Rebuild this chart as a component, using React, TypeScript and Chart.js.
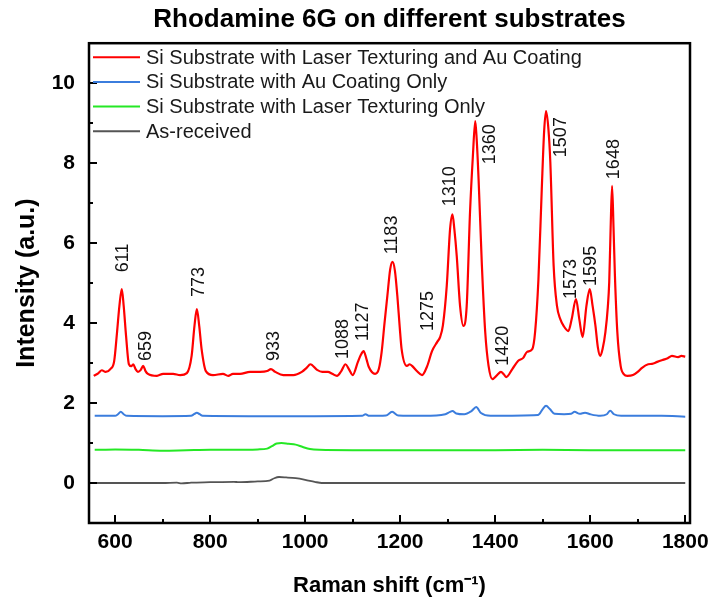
import React, { useEffect, useRef } from 'react';
import { Chart, registerables } from 'chart.js';

Chart.register(...registerables);

const FONT = '"Liberation Sans", Arial, Helvetica, sans-serif';

const chartTitle = 'Rhodamine 6G on different substrates';
const xTitle = 'Raman shift (cm\u207B\u00B9)';
const yTitle = 'Intensity (a.u.)';

const seriesNames = [
  'Si Substrate with Laser Texturing and Au Coating',
  'Si Substrate with Au Coating Only',
  'Si Substrate with Laser Texturing Only',
  'As-received',
];
const seriesColors = ['#ff0000', '#3b7ddd', '#25e825', '#555555'];

const redX = [555, 565, 572, 580, 590, 598, 604, 609, 614, 618, 623, 629, 634, 638, 643, 648, 654, 659, 664, 669, 688, 701, 722, 737, 751, 761, 767, 772, 777, 782, 791, 806, 827, 838, 848, 863, 884, 905, 920, 928, 937, 954, 975, 993, 1003, 1011, 1025, 1036, 1048, 1057, 1067, 1076, 1085, 1092, 1100, 1111, 1117, 1123, 1129, 1134, 1147, 1155, 1161, 1167, 1173, 1179, 1184, 1189, 1194, 1199, 1203, 1214, 1220, 1225, 1235, 1246, 1257, 1267, 1278, 1284, 1290, 1298, 1305, 1310, 1314, 1319, 1326, 1333, 1340, 1347, 1353, 1358, 1361, 1365, 1372, 1379, 1386, 1394, 1404, 1412, 1418, 1423, 1436, 1448, 1459, 1467, 1478, 1484, 1491, 1498, 1503, 1507, 1512, 1516, 1523, 1530, 1537, 1544, 1554, 1561, 1570, 1577, 1584, 1592, 1599, 1605, 1611, 1616, 1621, 1626, 1632, 1637, 1640, 1643, 1646, 1649, 1652, 1657, 1664, 1671, 1678, 1690, 1700, 1709, 1722, 1730, 1741, 1753, 1763, 1772, 1785, 1792, 1800];
const redY = [2.68, 2.75, 2.82, 2.78, 2.85, 3.05, 3.77, 4.43, 4.85, 4.43, 3.68, 2.97, 2.92, 2.97, 2.85, 2.78, 2.83, 2.93, 2.8, 2.73, 2.68, 2.73, 2.73, 2.7, 2.75, 3.18, 3.93, 4.35, 3.93, 3.35, 2.8, 2.7, 2.73, 2.68, 2.73, 2.73, 2.78, 2.78, 2.8, 2.85, 2.78, 2.7, 2.7, 2.78, 2.88, 2.97, 2.83, 2.78, 2.78, 2.73, 2.68, 2.8, 2.97, 2.85, 2.7, 3.03, 3.2, 3.3, 3.1, 2.9, 2.73, 2.85, 3.28, 4.0, 4.68, 5.35, 5.53, 5.3, 4.68, 3.9, 3.35, 2.93, 2.97, 2.93, 2.8, 2.7, 2.93, 3.3, 3.53, 3.65, 3.95, 4.93, 6.35, 6.72, 6.35, 5.68, 4.43, 3.93, 4.43, 6.78, 8.18, 9.05, 8.6, 7.6, 5.43, 3.77, 2.93, 2.6, 2.7, 2.78, 2.72, 2.65, 2.85, 3.05, 3.13, 3.28, 3.35, 3.78, 5.1, 7.35, 8.8, 9.3, 8.85, 8.03, 5.43, 4.43, 4.1, 3.93, 3.8, 4.1, 4.6, 4.1, 3.65, 4.43, 4.85, 4.43, 3.93, 3.4, 3.18, 3.35, 3.78, 4.4, 5.03, 6.4, 7.43, 6.4, 5.18, 3.78, 2.93, 2.72, 2.68, 2.7, 2.78, 2.88, 2.97, 2.98, 3.03, 3.08, 3.12, 3.18, 3.15, 3.18, 3.16];

const blueX = [557, 600, 606, 612, 618, 625, 700, 760, 766, 772, 778, 784, 900, 1000, 1120, 1127, 1135, 1170, 1183, 1196, 1250, 1295, 1305, 1310, 1318, 1335, 1350, 1360, 1370, 1390, 1490, 1500, 1507, 1515, 1525, 1545, 1560, 1567, 1578, 1589, 1600, 1621, 1635, 1642, 1650, 1665, 1750, 1800];
const blueY = [1.68, 1.68, 1.72, 1.78, 1.72, 1.68, 1.67, 1.68, 1.72, 1.76, 1.72, 1.68, 1.67, 1.67, 1.68, 1.72, 1.68, 1.69, 1.78, 1.69, 1.68, 1.72, 1.78, 1.8, 1.74, 1.72, 1.8, 1.9, 1.75, 1.68, 1.7, 1.85, 1.93, 1.85, 1.73, 1.72, 1.73, 1.78, 1.73, 1.76, 1.72, 1.68, 1.72, 1.81, 1.72, 1.68, 1.68, 1.66];

const greenX = [557, 600, 650, 700, 750, 800, 850, 900, 920, 930, 940, 950, 965, 980, 995, 1010, 1030, 1100, 1200, 1300, 1400, 1500, 1600, 1700, 1800];
const greenY = [0.83, 0.84, 0.83, 0.81, 0.82, 0.83, 0.83, 0.84, 0.86, 0.92, 0.99, 1.0, 0.98, 0.96, 0.9, 0.85, 0.83, 0.82, 0.82, 0.82, 0.82, 0.83, 0.82, 0.82, 0.82];

const grayX = [557, 700, 730, 740, 760, 800, 850, 860, 900, 925, 935, 945, 960, 980, 1000, 1020, 1035, 1200, 1800];
const grayY = [0.0, 0.0, 0.01, -0.01, 0.01, 0.02, 0.03, 0.02, 0.04, 0.06, 0.12, 0.15, 0.14, 0.12, 0.08, 0.03, 0.0, 0.0, 0.0];

const peakLabels = ['611', '659', '773', '933', '1088', '1127', '1183', '1275', '1310', '1360', '1420', '1507', '1573', '1595', '1648'];
const peakLabelX = [614.5, 663, 774.5, 932, 1078, 1120, 1181, 1257, 1303, 1387, 1414.5, 1537, 1558, 1600, 1648];
const peakLabelY = [5.27, 3.05, 4.65, 3.05, 3.1, 3.55, 5.72, 3.8, 6.92, 7.97, 2.93, 8.15, 4.6, 4.93, 7.6];

const xMin = 545;
const xMax = 1810;
const yMin = -1;
const yMax = 11;

const pts = (xs: number[], ys: number[]) => xs.map((x, i) => ({ x, y: ys[i] }));

export default function App() {
  const ref = useRef<HTMLCanvasElement | null>(null);

  useEffect(() => {
    document.body.style.margin = '0';
    const canvas = ref.current;
    if (!canvas) return;

    const overlay = {
      id: 'overlay',
      afterDraw(chart: any) {
        const { ctx, chartArea: a, scales } = chart;
        const xs = scales.x;
        const ys = scales.y;
        ctx.save();
        ctx.strokeStyle = '#000';
        ctx.lineWidth = 2;
        ctx.lineCap = 'butt';
        xs.ticks.forEach((t: any) => {
          if (t.value <= xMin || t.value >= xMax) return;
          const px = Math.round(xs.getPixelForValue(t.value));
          const len = t.value % 200 === 0 ? 8 : 4;
          ctx.beginPath();
          ctx.moveTo(px, a.bottom);
          ctx.lineTo(px, a.bottom - len);
          ctx.stroke();
        });
        ys.ticks.forEach((t: any) => {
          if (t.value <= yMin || t.value >= yMax) return;
          const py = Math.round(ys.getPixelForValue(t.value));
          const len = t.value % 2 === 0 ? 8 : 4;
          ctx.beginPath();
          ctx.moveTo(a.left, py);
          ctx.lineTo(a.left + len, py);
          ctx.stroke();
        });
        ctx.lineWidth = 2.5;
        ctx.strokeRect(a.left, a.top, a.right - a.left, a.bottom - a.top);

        // peak labels
        ctx.fillStyle = '#111';
        ctx.font = `18px ${FONT}`;
        ctx.textAlign = 'left';
        ctx.textBaseline = 'middle';
        peakLabels.forEach((lab, i) => {
          const px = xs.getPixelForValue(peakLabelX[i]);
          const py = ys.getPixelForValue(peakLabelY[i]);
          ctx.save();
          ctx.translate(px, py);
          ctx.rotate(-Math.PI / 2);
          ctx.fillText(lab, 0, 1);
          ctx.restore();
        });

        // legend
        ctx.font = `20px ${FONT}`;
        ctx.fillStyle = '#1a1a1a';
        seriesNames.forEach((name, i) => {
          const y = a.top + 14 + i * 24.7;
          ctx.strokeStyle = seriesColors[i];
          ctx.lineWidth = 2;
          ctx.beginPath();
          ctx.moveTo(a.left + 4, y);
          ctx.lineTo(a.left + 51, y);
          ctx.stroke();
          ctx.fillText(name, a.left + 57, y + 1);
        });
        ctx.restore();
      },
    };

    const tickFont = { family: FONT, size: 21, weight: 'bold' as const };

    const chart = new Chart(canvas, {
      type: 'line',
      data: {
        datasets: [
          { label: seriesNames[0], data: pts(redX, redY), borderColor: seriesColors[0], borderWidth: 2.2 },
          { label: seriesNames[1], data: pts(blueX, blueY), borderColor: seriesColors[1], borderWidth: 2 },
          { label: seriesNames[2], data: pts(greenX, greenY), borderColor: seriesColors[2], borderWidth: 2 },
          { label: seriesNames[3], data: pts(grayX, grayY), borderColor: seriesColors[3], borderWidth: 1.8 },
        ].map((d) => ({ ...d, pointRadius: 0, fill: false, cubicInterpolationMode: 'monotone' as const })),
      },
      options: {
        animation: false,
        responsive: true,
        maintainAspectRatio: false,
        devicePixelRatio: 1,
        events: [],
        layout: { padding: { left: 0, right: 23, top: 0, bottom: 0 } },
        plugins: {
          legend: { display: false },
          tooltip: { enabled: false },
          title: {
            display: true,
            text: chartTitle,
            color: '#000',
            fullSize: false,
            font: { family: FONT, size: 26, weight: 'bold' },
            padding: { top: 4, bottom: 8 },
          },
        },
        scales: {
          x: {
            type: 'linear',
            min: xMin,
            max: xMax,
            grid: { display: false, drawTicks: false },
            border: { display: false },
            ticks: {
              stepSize: 100,
              autoSkip: false,
              includeBounds: false,
              maxRotation: 0,
              minRotation: 0,
              padding: 7,
              color: '#000',
              font: tickFont,
              callback: (v: any) => (Number(v) % 200 === 0 ? String(v) : ''),
            },
            title: {
              display: true,
              text: xTitle,
              color: '#000',
              font: { family: FONT, size: 22, weight: 'bold' },
              padding: { top: 0, bottom: 2 },
            },
            afterFit: (s: any) => {
              s.height = 78;
              s.paddingLeft = 0;
              s.paddingRight = 0;
            },
          },
          y: {
            type: 'linear',
            min: yMin,
            max: yMax,
            grid: { display: false, drawTicks: false },
            border: { display: false },
            ticks: {
              stepSize: 1,
              autoSkip: false,
              includeBounds: false,
              padding: 14,
              color: '#000',
              font: tickFont,
              callback: (v: any) => {
                const n = Number(v);
                return n % 2 === 0 && n >= 0 && n <= 10 ? String(n) : '';
              },
            },
            title: {
              display: true,
              text: yTitle,
              color: '#000',
              font: { family: FONT, size: 25, weight: 'bold' },
              padding: { top: 12, bottom: 0 },
            },
            afterFit: (s: any) => {
              s.width = 89;
              s.paddingTop = 0;
              s.paddingBottom = 0;
            },
          },
        },
      },
      plugins: [overlay],
    });

    return () => chart.destroy();
  }, []);

  return (
    <div style={{ position: 'fixed', left: 0, top: 0, width: 713, height: 601, background: '#fff' }}>
      <canvas ref={ref} />
    </div>
  );
}
